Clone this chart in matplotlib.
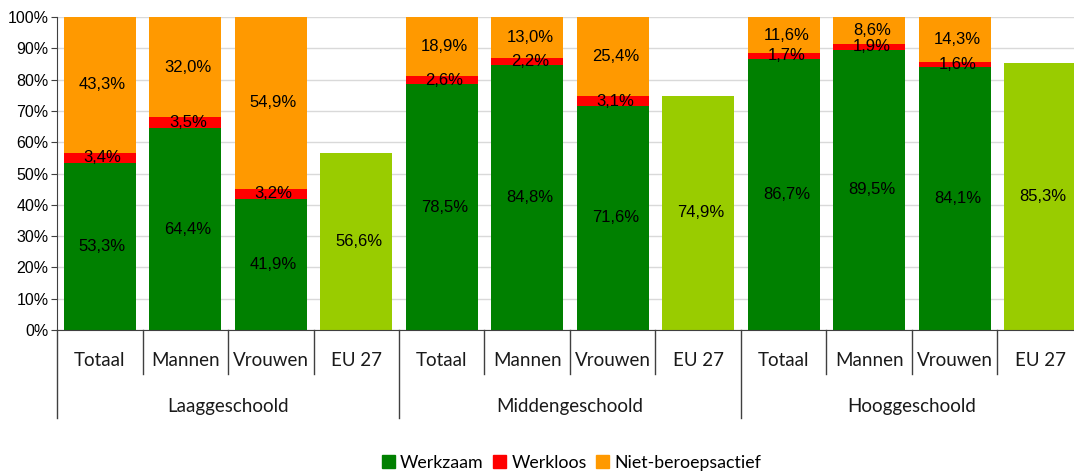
import matplotlib.pyplot as plt
from matplotlib.patches import Patch

groups = ["Laaggeschoold", "Middengeschoold", "Hooggeschoold"]
subcats = ["Totaal", "Mannen", "Vrouwen", "EU 27"]

# per group: Totaal, Mannen, Vrouwen
werkzaam = [53.3, 64.4, 41.9, 78.5, 84.8, 71.6, 86.7, 89.5, 84.1]
werkloos = [3.4, 3.5, 3.2, 2.6, 2.2, 3.1, 1.7, 1.9, 1.6]
niet_actief = [43.3, 32.0, 54.9, 18.9, 13.0, 25.4, 11.6, 8.6, 14.3]
eu27 = [56.6, 74.9, 85.3]

c_werk = "#008000"
c_loos = "#FF0000"
c_niet = "#FF9900"
c_eu = "#99CC00"

lbl_font = "Liberation Sans"
cat_font = "Lato"


def fmt(v):
    return f"{v:.1f}".replace(".", ",") + "%"


fig = plt.figure(figsize=(10.74, 4.72), dpi=100)
ax = fig.add_axes([57 / 1074, 1 - 330 / 472, 1 - 57 / 1074, 313 / 472])

w = 0.84
pos = 0
k = 0
for g in range(3):
    for s in range(3):
        a, b, c = werkzaam[k], werkloos[k], niet_actief[k]
        ax.bar(pos, a, w, color=c_werk, zorder=2)
        ax.bar(pos, b, w, bottom=a, color=c_loos, zorder=2)
        ax.bar(pos, c, w, bottom=a + b, color=c_niet, zorder=2)
        for val, mid in [(a, a / 2), (b, a + b / 2), (c, a + b + c / 2)]:
            ax.text(pos + 0.03, mid, fmt(val), ha="center", va="center",
                    fontsize=12, family=lbl_font, color="black", zorder=3)
        k += 1
        pos += 1
    ax.bar(pos, eu27[g], w, color=c_eu, zorder=2)
    ax.text(pos + 0.03, eu27[g] / 2, fmt(eu27[g]), ha="center", va="center",
            fontsize=12, family=lbl_font, color="black", zorder=3)
    pos += 1

ax.set_xlim(-0.5, -0.5 + (1074 - 57) / 85.5)
ax.set_ylim(0, 100)
ax.set_yticks(range(0, 101, 10))
ax.set_yticklabels([f"{v}%" for v in range(0, 101, 10)], family=lbl_font, fontsize=11.5)
ax.yaxis.grid(True, color="#D9D9D9", linewidth=1, zorder=0)
ax.set_axisbelow(True)
ax.set_xticks([])
ax.tick_params(axis="y", length=4, color="#404040", pad=2)
for sp in ["top", "right"]:
    ax.spines[sp].set_visible(False)
ax.spines["left"].set_color("#404040")
ax.spines["bottom"].set_color("#404040")

# category labels and separators
tr = ax.get_xaxis_transform()
for i in range(12):
    ax.text(i, -0.099, subcats[i % 4], transform=tr, ha="center", va="center",
            fontsize=13.5, family=cat_font, color="#1a1a1a")
for i in range(13):
    x = i - 0.5
    ylow = -0.281 if i % 4 == 0 else -0.1406
    ax.plot([x, x], [0, ylow], transform=tr, color="#404040", lw=1, clip_on=False)
for g in range(3):
    ax.text(g * 4 + 1.5, -0.243, groups[g], transform=tr, ha="center", va="center",
            fontsize=13.5, family=cat_font, color="#1a1a1a")

handles = [Patch(color=c_werk, label="Werkzaam"),
           Patch(color=c_loos, label="Werkloos"),
           Patch(color=c_niet, label="Niet-beroepsactief")]
fig.legend(handles=handles, loc="center", bbox_to_anchor=(0.532, 0.02), ncol=3,
           frameon=False, prop={"family": cat_font, "size": 12.8},
           handlelength=0.75, handleheight=0.75, handletextpad=0.3, columnspacing=0.5)

fig.savefig("out.png", dpi=100)
